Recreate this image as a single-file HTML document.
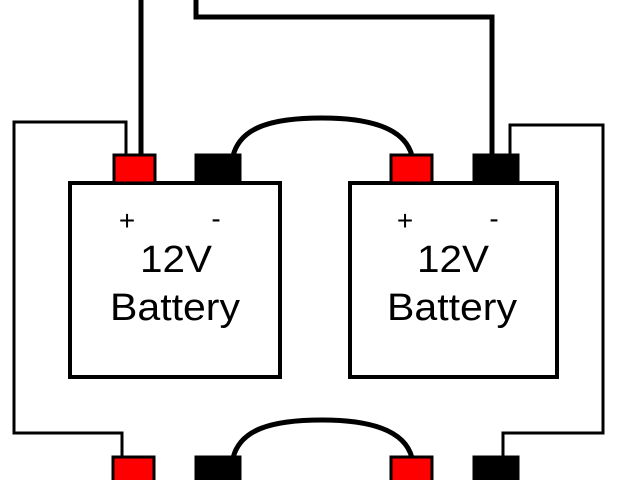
<!DOCTYPE html>
<html><head><style>body{margin:0;background:#fff}svg{display:block}</style></head><body>
<svg width="640" height="480" viewBox="0 0 640 480" xmlns="http://www.w3.org/2000/svg">
<g fill="none" stroke="#000">
<path d="M141 0V156" stroke-width="5"/>
<path d="M196 0V17H492V156" stroke-width="5"/>
<path d="M126 156V122H14V433H122V458" stroke-width="3"/>
<path d="M510 156V125H603V433H503V458" stroke-width="3"/>
<path d="M233 156C240 128 270 118 322 118C370 118 405 128 412 156" stroke-width="5"/>
<path d="M233 458C240 430 270 420 322 420C370 420 405 430 412 458" stroke-width="5"/>
<rect x="70" y="183" width="210" height="194" stroke-width="4" fill="#fff"/>
<rect x="350" y="183" width="207" height="194" stroke-width="4" fill="#fff"/>
</g>
<g stroke="#000" stroke-width="3">
<rect x="114" y="155" width="41" height="28" fill="#f00"/>
<rect x="196" y="155" width="44" height="28" fill="#000"/>
<rect x="391" y="155" width="41" height="28" fill="#f00"/>
<rect x="474" y="155" width="44" height="28" fill="#000"/>
<rect x="113" y="457" width="41" height="28" fill="#f00"/>
<rect x="196" y="457" width="44" height="28" fill="#000"/>
<rect x="391" y="457" width="41" height="28" fill="#f00"/>
<rect x="474" y="457" width="44" height="28" fill="#000"/>
</g>
<g font-family="Liberation Sans, sans-serif" fill="#000" text-anchor="middle">
<text x="127" y="230" font-size="28">+</text><text x="216" y="228" font-size="28">-</text>
<text x="405" y="230" font-size="28">+</text><text x="494" y="228" font-size="28">-</text>
<text x="176" y="272" font-size="38" textLength="72" lengthAdjust="spacingAndGlyphs">12V</text>
<text x="175" y="320" font-size="38" textLength="130" lengthAdjust="spacingAndGlyphs">Battery</text>
<text x="453" y="272" font-size="38" textLength="72" lengthAdjust="spacingAndGlyphs">12V</text>
<text x="452" y="320" font-size="38" textLength="130" lengthAdjust="spacingAndGlyphs">Battery</text>
</g>
</svg>
</body></html>
